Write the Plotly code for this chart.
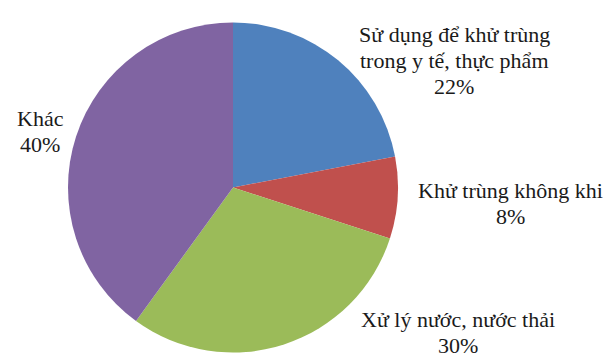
import plotly.graph_objects as go

labels = ["Sử dụng để khử trùng<br>trong y tế, thực phẩm", "Khử trùng không khi",
          "Xử lý nước, nước thải", "Khác"]
values = [22, 8, 30, 40]
colors = ["#4F81BD", "#C0504D", "#9BBB59", "#8064A2"]

W, H = 614, 358
cx, cy, r = 233, 187.5, 165

fig = go.Figure(go.Pie(
    labels=labels, values=values, sort=False, direction="clockwise", rotation=0,
    marker=dict(colors=colors, line=dict(width=0)),
    textinfo="none", hoverinfo="label+percent", showlegend=False,
    domain=dict(x=[(cx - r) / W, (cx + r) / W], y=[1 - (cy + r) / H, 1 - (cy - r) / H]),
))

# label block centres (pixels) and line spacing
label_pos = [(454, 61), (510, 203), (458, 332), (40, 131)]
line_gap = 26
total = sum(values)
for lab, v, (lx, ly) in zip(labels, values, label_pos):
    lines = lab.split("<br>") + [f"{round(v / total * 100)}%"]
    n = len(lines)
    for i, line in enumerate(lines):
        y_px = ly + (i - (n - 1) / 2) * line_gap
        fig.add_annotation(
            x=lx / W, y=1 - y_px / H, xref="paper", yref="paper",
            text=line, showarrow=False,
            xanchor="center", yanchor="middle", align="center",
            font=dict(family="Liberation Serif", size=22, color="#1a1a1a"),
        )

fig.update_layout(
    width=W, height=H, margin=dict(l=0, r=0, t=0, b=0),
    paper_bgcolor="white", plot_bgcolor="white",
)
fig.write_html("out.html")
